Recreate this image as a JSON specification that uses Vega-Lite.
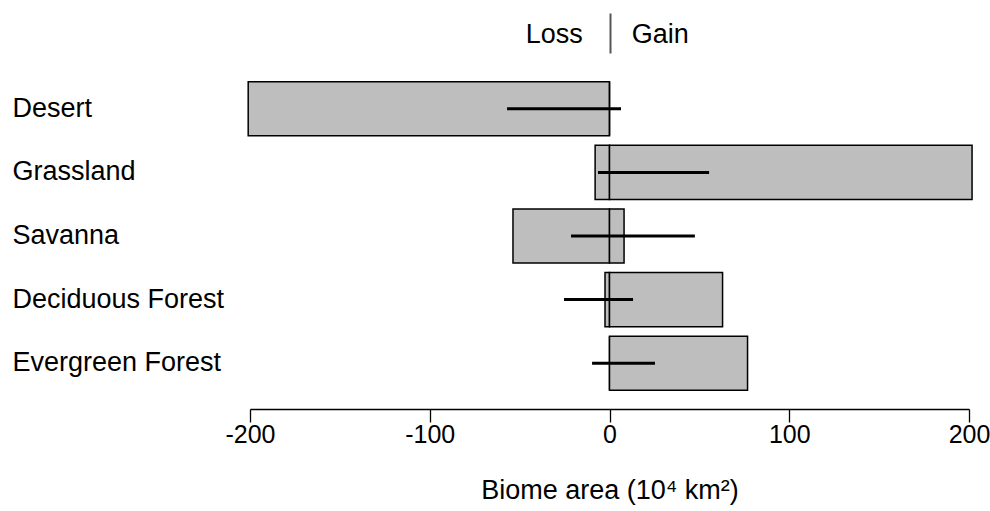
{
  "$schema": "https://vega.github.io/schema/vega-lite/v6.json",
  "autosize": "none",
  "padding": {"left": 250, "top": 77, "right": 21, "bottom": 116},
  "width": 719,
  "height": 318,
  "background": "white",
  "config": {
    "view": {"stroke": null},
    "font": "Liberation Sans",
    "axis": {"grid": false, "labelColor": "black", "titleColor": "black", "labelFont": "Liberation Sans", "titleFont": "Liberation Sans"}
  },
  "data": {
    "values": [
      {"biome": "Desert", "loss": -201, "gain": 0, "lo": -57, "hi": 6.4},
      {"biome": "Grassland", "loss": -8, "gain": 201.7, "lo": -6.4, "hi": 55.4},
      {"biome": "Savanna", "loss": -53.7, "gain": 8.1, "lo": -21.4, "hi": 47.5},
      {"biome": "Deciduous Forest", "loss": -2.5, "gain": 62.9, "lo": -25.3, "hi": 13.1},
      {"biome": "Evergreen Forest", "loss": 0, "gain": 76.8, "lo": -9.7, "hi": 25.3}
    ]
  },
  "encoding": {
    "y": {
      "field": "biome",
      "type": "nominal",
      "sort": null,
      "scale": {"paddingInner": 0.15, "paddingOuter": 0.075},
      "axis": {
        "title": null,
        "domain": false,
        "ticks": false,
        "labelAlign": "left",
        "labelBaseline": "middle",
        "labelPadding": 238,
        "labelFontSize": 27,
        "labelLimit": 300
      }
    }
  },
  "layer": [
    {
      "mark": {"type": "bar", "fill": "#BEBEBE", "stroke": "black", "strokeWidth": 1.5},
      "encoding": {
        "x": {
          "field": "loss",
          "type": "quantitative",
          "scale": {"domain": [-200, 200], "nice": false, "zero": false},
          "axis": {
            "values": [-200, -100, 0, 100, 200],
            "labelExpr": "'' + datum.value",
            "title": "Biome area (10⁴ km²)",
            "titleFontSize": 27,
            "titleFontWeight": "normal",
            "titlePadding": 30,
            "labelFontSize": 25,
            "labelPadding": 0,
            "offset": 14,
            "tickSize": 13,
            "tickColor": "black",
            "domainColor": "black",
            "domainWidth": 1.3,
            "tickWidth": 1.3,
            "labelFlush": false,
            "labelOverlap": false
          }
        },
        "x2": {"datum": 0}
      }
    },
    {
      "mark": {"type": "bar", "fill": "#BEBEBE", "stroke": "black", "strokeWidth": 1.5},
      "encoding": {
        "x": {"field": "gain", "type": "quantitative", "axis": null},
        "x2": {"datum": 0}
      }
    },
    {
      "mark": {"type": "rule", "color": "black", "strokeWidth": 3},
      "encoding": {
        "x": {"field": "lo", "type": "quantitative", "axis": null},
        "x2": {"field": "hi"}
      }
    },
    {
      "mark": {"type": "rule", "opacity": 0},
      "encoding": {
        "x": {
          "datum": 0,
          "type": "quantitative",
          "axis": {
            "orient": "top",
            "values": [-31, 0, 28],
            "labelExpr": "datum.value < 0 ? 'Loss' : (datum.value > 0 ? 'Gain' : '')",
            "title": null,
            "domain": false,
            "offset": 24,
            "tickSize": 40,
            "tickWidth": 2,
            "tickColor": "#555555",
            "tickOpacity": {"condition": {"test": "datum.value == 0", "value": 1}, "value": 0},
            "labelFontSize": 27,
            "labelBaseline": "middle",
            "labelPadding": -21,
            "labelFlush": false,
            "labelOverlap": false
          }
        }
      }
    }
  ],
  "resolve": {"axis": {"x": "independent"}}
}
